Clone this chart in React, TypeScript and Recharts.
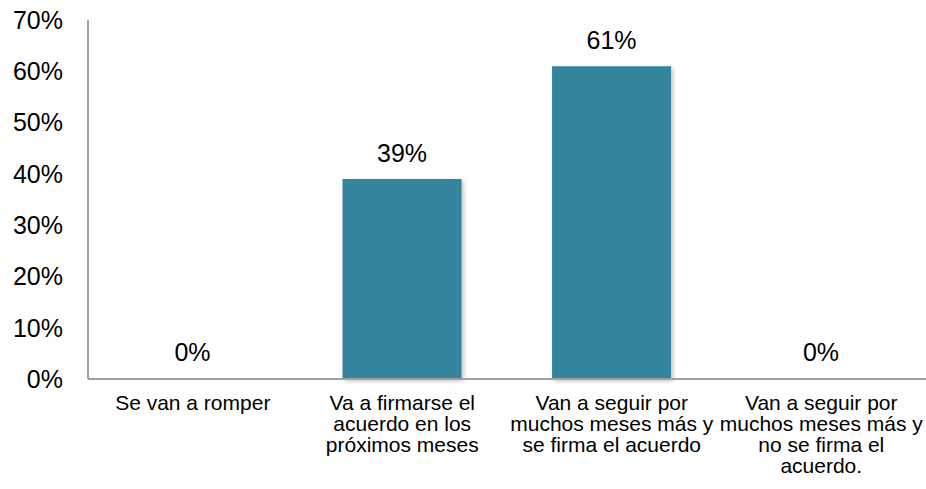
import { BarChart, Bar, XAxis, YAxis, LabelList, Cell } from "recharts";

// Survey answers (share of respondents, %).
const CATEGORIES = [
  "Se van a romper",
  "Va a firmarse el\nacuerdo en los\npróximos meses",
  "Van a seguir por\nmuchos meses más y\nse firma el acuerdo",
  "Van a seguir por\nmuchos meses más y\nno se firma el\nacuerdo.",
];
const VALUES = [0, 39, 61, 0];
const Y_TICKS = [0, 10, 20, 30, 40, 50, 60, 70];

const BAR_COLOR = "#31859C";
const AXIS_COLOR = "#a0a0a0";
const FONT = "'Liberation Sans', Arial, sans-serif";

const data = CATEGORIES.map((name, i) => ({ name, value: VALUES[i] }));

function CategoryTick({ x, y, payload }: any) {
  const lines = String(payload.value).split("\n");
  return (
    <text x={x} y={y + 31} textAnchor="middle" fill="#000" fontSize={21} fontFamily={FONT}>
      {lines.map((line, i) => (
        <tspan key={i} x={x} dy={i === 0 ? 0 : 21}>
          {line}
        </tspan>
      ))}
    </text>
  );
}

export default function App() {
  return (
    <div style={{ width: 926, height: 489, background: "#fff" }}>
      <style>{"body{margin:0}"}</style>
      <BarChart
        width={926}
        height={489}
        data={data}
        margin={{ top: 20, right: 0, bottom: 0, left: 0 }}
        barCategoryGap="21.5%"
      >
        <defs>
          <filter id="barShadow" x="-10%" y="-10%" width="130%" height="130%">
            <feDropShadow dx="2" dy="2" stdDeviation="2" floodColor="#000" floodOpacity="0.25" />
          </filter>
        </defs>
        <XAxis
          dataKey="name"
          height={110}
          tickLine={false}
          tickSize={0}
          tickMargin={0}
          interval={0}
          axisLine={{ stroke: AXIS_COLOR, strokeWidth: 2 }}
          tick={<CategoryTick />}
        />
        <YAxis
          width={88}
          domain={[0, 70]}
          ticks={Y_TICKS}
          interval={0}
          tickLine={false}
          tickSize={0}
          tickMargin={25}
          axisLine={{ stroke: AXIS_COLOR, strokeWidth: 2 }}
          tickFormatter={(v: number) => `${v}%`}
          tick={{ fill: "#000", fontSize: 25, fontFamily: FONT }}
        />
        <Bar
          dataKey="value"
          fill={BAR_COLOR}
          minPointSize={1}
          isAnimationActive={false}
          filter="url(#barShadow)"
        >
          {data.map((d) => (
            <Cell key={d.name} fill={d.value === 0 ? "transparent" : BAR_COLOR} />
          ))}
          <LabelList
            dataKey="value"
            position="top"
            offset={17}
            formatter={(v: number) => `${v}%`}
            style={{ fill: "#000", fontSize: 25, fontFamily: FONT }}
          />
        </Bar>
      </BarChart>
    </div>
  );
}
